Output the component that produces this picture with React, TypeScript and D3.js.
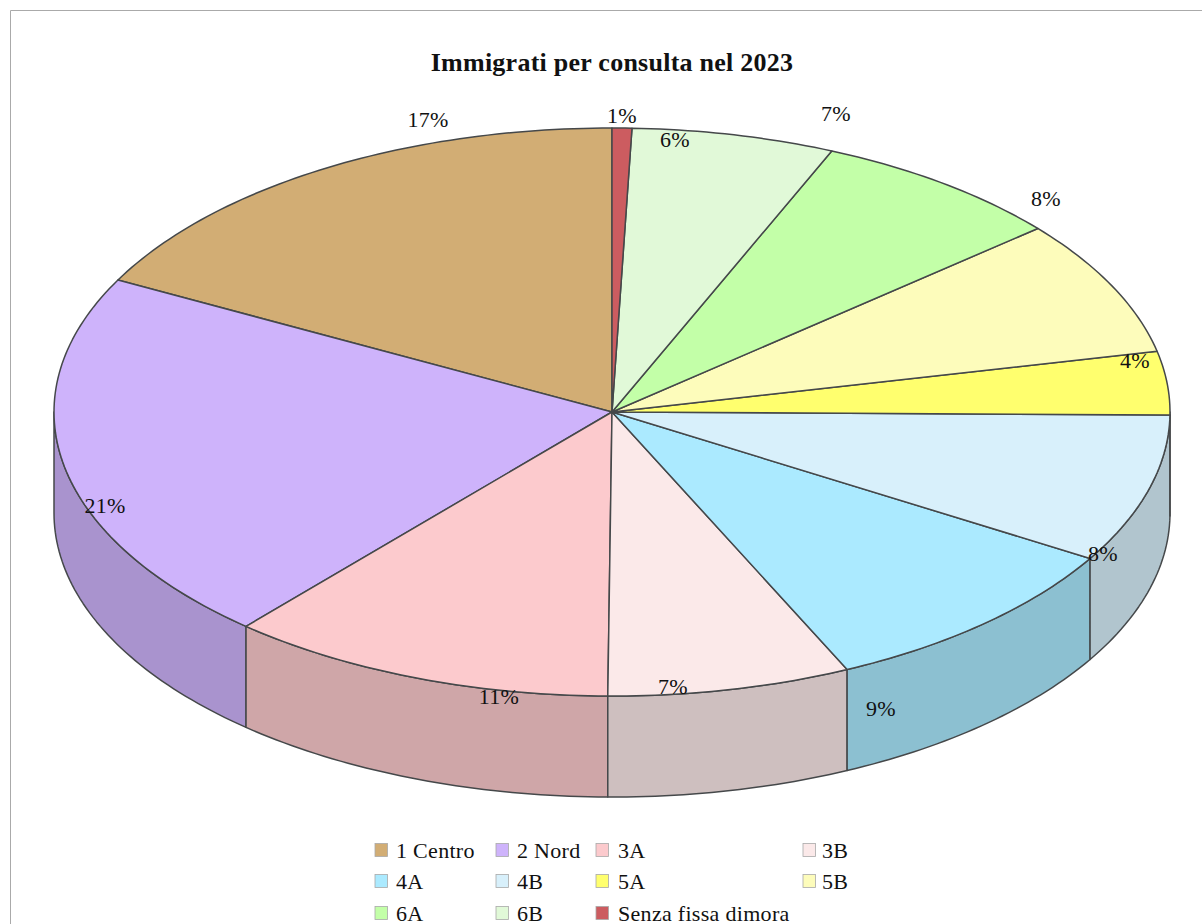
import React from "react";
import * as d3 from "d3";

const categories = ["1 Centro", "2 Nord", "3A", "3B", "4A", "4B", "5A", "5B", "6A", "6B", "Senza fissa dimora"];
const shares = [17.3, 21.3, 11.26, 7.04, 9.45, 8.45, 3.6, 7.75, 7.37, 5.87, 0.57];
const percentLabels = ["17%", "21%", "11%", "7%", "9%", "8%", "4%", "8%", "7%", "6%", "1%"];
const topColors = ["#D2AD74", "#CEB3FB", "#FCCACD", "#FBE9E9", "#ABEAFF", "#D8F0FB", "#FFFF6E", "#FDFCBB", "#C3FFA8", "#E1F9D8", "#CC5C60"];
const title = "Immigrati per consulta nel 2023";

// layout only
const CX = 612, CY = 412, RX = 558, RY = 284, DEPTH = 101;
const labelOffsets: [number, number][] = [
  [-184, -292], [-507, 94], [-113, 285], [61, 275], [269, 297], [491, 142],
  [523, -51], [434, -213], [224, -298], [63, -272], [10, -296],
];
const legendCols = [375, 496, 596, 803];
const legendTextDx = [21, 21, 22, 19];
const legendRows = [850, 881, 913];
const legendSlots: [number, number][] = [
  [0, 0], [1, 0], [2, 0], [3, 0], [0, 1], [1, 1], [2, 1], [3, 1], [0, 2], [1, 2], [2, 2],
];

const STROKE = "#45484a";
const px = (t: number) => CX + RX * Math.sin(t);
const py = (t: number) => CY - RY * Math.cos(t);
const line = d3.line<[number, number]>().x((d) => d[0]).y((d) => d[1]);

function rim(a: number, b: number, dy = 0): [number, number][] {
  const n = Math.max(2, Math.ceil((Math.abs(b - a) * 180) / Math.PI));
  return d3.range(n + 1).map((i) => {
    const t = a + ((b - a) * i) / n;
    return [px(t), py(t) + dy] as [number, number];
  });
}

const pieData = d3
  .pie<number>()
  .sort(null)
  .startAngle(0)
  .endAngle(-2 * Math.PI)(shares)
  .map((s, i) => ({ i, lo: Math.min(s.startAngle, s.endAngle), hi: Math.max(s.startAngle, s.endAngle) }));

// normalised to 0..2π so the front half can be tested directly
const slices = pieData.map((s) => ({ i: s.i, lo: s.lo + 2 * Math.PI, hi: s.hi + 2 * Math.PI }));

export default function App() {
  const font = "'Liberation Serif', serif";
  return (
    <svg width={1202} height={924} style={{ position: "absolute", left: 0, top: 0, background: "#fff" }} fontFamily={font}>
      <path d="M1202 10.5H10.5V924" fill="none" stroke="#aaaaaa" strokeWidth={1} />
      <text x={612} y={71} textAnchor="middle" fontSize={26} fontWeight="bold" fill="#111" letterSpacing={0.25}>
        {title}
      </text>
      {slices.map((s) => {
        const a = Math.max(s.lo, Math.PI / 2);
        const b = Math.min(s.hi, (3 * Math.PI) / 2);
        if (b <= a) return null;
        const pts = [...rim(a, b), ...rim(b, a, DEPTH)];
        const fill = d3.rgb(topColors[s.i]).copy();
        const side = d3.rgb(fill.r * 0.82, fill.g * 0.82, fill.b * 0.82).formatHex();
        return <path key={`w${s.i}`} d={line(pts) + "Z"} fill={side} stroke={STROKE} strokeWidth={1.5} strokeLinejoin="round" />;
      })}
      {slices.map((s) => (
        <path
          key={`t${s.i}`}
          d={line([[CX, CY], ...rim(s.lo, s.hi)]) + "Z"}
          fill={topColors[s.i]}
          stroke={STROKE}
          strokeWidth={1.5}
          strokeLinejoin="round"
        />
      ))}
      {percentLabels.map((l, i) => (
        <text key={`l${i}`} x={CX + labelOffsets[i][0]} y={CY + labelOffsets[i][1] + 7} textAnchor="middle" fontSize={22} letterSpacing={0.3} fill="#111">
          {l}
        </text>
      ))}
      {categories.map((c, i) => {
        const [col, row] = legendSlots[i];
        const x = legendCols[col], y = legendRows[row];
        return (
          <g key={c}>
            <rect x={x} y={y - 6.5} width={12.5} height={13} fill={topColors[i]} stroke="#a9a9a9" strokeWidth={0.8} />
            <text x={x + legendTextDx[col]} y={y + 7.5} fontSize={22} letterSpacing={0.3} fill="#111">
              {c}
            </text>
          </g>
        );
      })}
    </svg>
  );
}
